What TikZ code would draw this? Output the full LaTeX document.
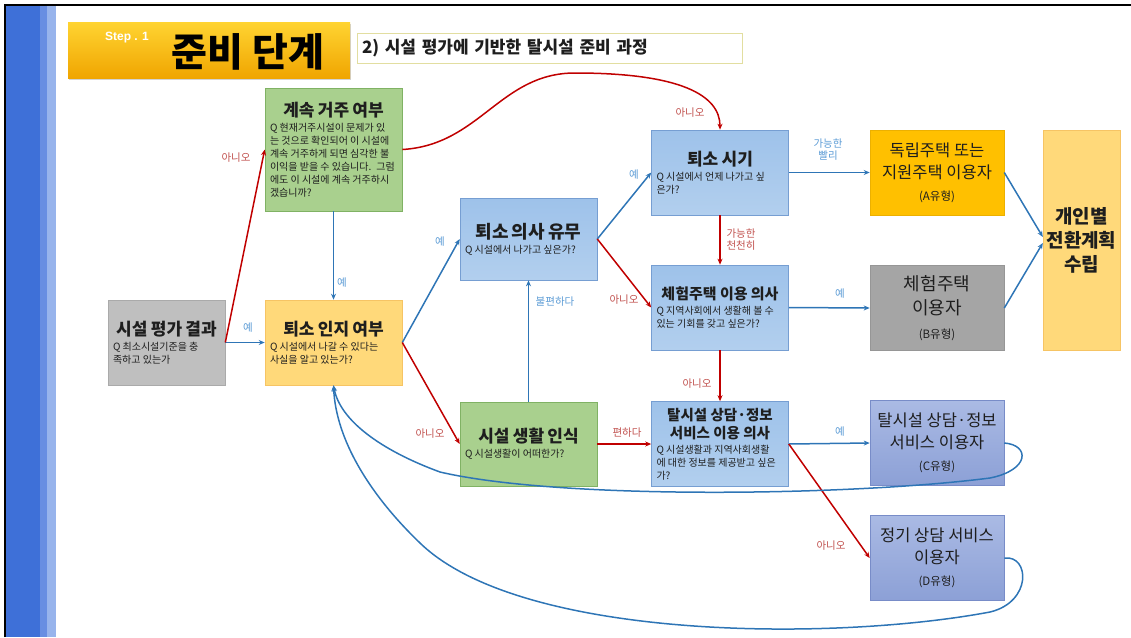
\documentclass[tikz,border=0pt]{standalone}
\usepackage{fontspec}
\setmainfont{Noto Sans CJK KR}
\newfontfamily\latinfont{Liberation Sans}
\usetikzlibrary{arrows.meta,shadows}

\definecolor{stripdk}{RGB}{62,112,216}
\definecolor{stripmd}{RGB}{104,142,226}
\definecolor{striplt}{RGB}{152,180,236}
\definecolor{ttltop}{RGB}{255,212,50}
\definecolor{ttlbot}{RGB}{240,165,0}
\definecolor{subbd}{RGB}{226,222,160}
\definecolor{txtdark}{RGB}{30,30,30}
\definecolor{evalfill}{RGB}{191,191,191}
\definecolor{evalbd}{RGB}{170,170,170}
\definecolor{grn}{RGB}{169,208,142}
\definecolor{grnbd}{RGB}{128,178,100}
\definecolor{yel}{RGB}{255,217,122}
\definecolor{yelbd}{RGB}{246,196,100}
\definecolor{blutop}{RGB}{158,194,234}
\definecolor{blubot}{RGB}{178,207,238}
\definecolor{blubd}{RGB}{118,158,210}
\definecolor{gold}{RGB}{255,192,0}
\definecolor{goldbd}{RGB}{236,176,0}
\definecolor{gry}{RGB}{165,165,165}
\definecolor{grybd}{RGB}{150,150,150}
\definecolor{peritop}{RGB}{170,186,228}
\definecolor{peribot}{RGB}{140,160,214}
\definecolor{peribd}{RGB}{120,140,200}
\definecolor{arblue}{RGB}{46,117,182}
\definecolor{arred}{RGB}{192,0,0}
\definecolor{lblblue}{RGB}{91,155,213}
\definecolor{lblred}{RGB}{192,80,77}

\newcommand{\qtitle}[2][17]{{\centering\fontsize{#1}{18}\selectfont\bfseries #2\par}\vskip2pt}
\newcommand{\qbody}[1]{{\raggedright\fontsize{10}{13}\selectfont\spaceskip=.22em plus .1em minus .05em #1\par}}
\newcommand{\utype}[1]{{\fontsize{11.5}{15}\selectfont (#1유형)}}

\tikzset{
    qbox/.style = {
        rectangle,
        draw,
        line width=0.6pt,
        text width=127pt,
        inner xsep=5pt,
        inner ysep=3pt,
        align=left,
        text=txtdark
    },
    evalbox/.style = {qbox, fill=evalfill, draw=evalbd, text width=107pt, minimum height=85pt},
    grnbox/.style = {qbox, fill=grn, draw=grnbd},
    yelbox/.style = {qbox, fill=yel, draw=yelbd, minimum height=85pt},
    blubox/.style = {qbox, draw=blubd, top color=blutop, bottom color=blubot, minimum height=85pt},
    resbox/.style = {
        rectangle,
        draw,
        line width=0.6pt,
        minimum width=134pt,
        minimum height=85pt,
        align=center,
        text=txtdark,
        font=\fontsize{16.5}{22}\selectfont
    },
    typea/.style = {resbox, fill=gold, draw=goldbd},
    typeb/.style = {resbox, fill=gry, draw=grybd, font=\fontsize{18}{24}\selectfont},
    typec/.style = {resbox, draw=peribd, top color=peritop, bottom color=peribot},
    lbl/.style = {font=\fontsize{10.5}{12}\selectfont, inner sep=1pt, align=center},
    yes/.style = {lbl, text=lblblue},
    no/.style = {lbl, text=lblred},
    bluearr/.style = {draw=arblue, line width=1.5pt, -{Stealth[length=6pt,width=5pt]}},
    redarr/.style = {draw=arred, line width=1.5pt, -{Stealth[length=6pt,width=5pt]}}
}

\begin{document}
\begin{tikzpicture}[x=1pt, y=-1pt]

  \useasboundingbox (0,0) rectangle (1131,637);

  %% side strip and frame
  \fill[stripdk] (6,6) rectangle (40,637);
  \fill[stripmd] (40,6) rectangle (47,637);
  \fill[striplt] (47,6) rectangle (56,637);
  \draw[line width=1.2pt] (5,637) -- (5,5) -- (1131,5);

  %% heading
  \node[rectangle, minimum width=282pt, minimum height=56pt, top color=ttltop, bottom color=ttlbot,
        drop shadow={shadow xshift=1pt, shadow yshift=-2pt, opacity=0.35}] (ttl) at (209,50) {};
  \node[text=white, font=\latinfont\bfseries\fontsize{12}{13}\selectfont] (stepno) at (127,38) {Step . 1};
  \node[text=black, font=\bfseries\fontsize{39}{44}\selectfont] (stage) at (248,52) {준비 단계};
  \node[rectangle, draw=subbd, line width=0.8pt, fill=white, minimum height=30pt, text width=375pt,
        inner xsep=5pt, align=left, text=txtdark, font=\bfseries\fontsize{17}{20}\selectfont]
        (sub) at (549.5,48) {2) 시설 평가에 기반한 탈시설 준비 과정};

  %% question boxes
  \node[evalbox] (eval) at (166.5,342.5) {\qtitle{시설 평가 결과}\qbody{Q 최소시설기준을 충\\족하고 있는가}};
  \node[grnbox, minimum height=123pt] (stay) at (333.5,149.5)
    {\qtitle{계속 거주 여부}\qbody{Q 현재거주시설이 문제가 있\\는 것으로 확인되어 이 시설에\\계속 거주하게 되면 심각한 불\\이익을 받을 수 있습니다. 그럼\\에도 이 시설에 계속 거주하시\\겠습니까?}};
  \node[yelbox] (aware) at (333.5,342.5) {\qtitle{퇴소 인지 여부}\qbody{Q 시설에서 나갈 수 있다는\\사실을 알고 있는가?}};
  \node[blubox, minimum height=82pt] (will) at (528.5,239) {\qtitle[18]{퇴소 의사 유무}\qbody{Q 시설에서 나가고 싶은가?}};
  \node[grnbox, minimum height=84pt] (life) at (528.5,444) {\qtitle{시설 생활 인식}\qbody{Q 시설생활이 어떠한가?}};
  \node[blubox] (when) at (720,172.5) {\qtitle{퇴소 시기}\qbody{Q 시설에서 언제 나가고 싶\\은가?}};
  \node[blubox] (trial) at (720,307.5) {\qtitle[15]{체험주택 이용 의사}\qbody{Q 지역사회에서 생활해 볼 수\\있는 기회를 갖고 싶은가?}};
  \node[blubox] (consult) at (720,444)
    {\qtitle[14.5]{탈시설 상담·정보\\서비스 이용 의사}\qbody{Q 시설생활과 지역사회생활\\에 대한 정보를 제공받고 싶은\\가?}};

  %% user types
  \node[typea] (usra) at (937,172.5) {독립주택 또는\\지원주택 이용자\\\utype{A}};
  \node[typeb] (usrb) at (937,308) {체험주택\\이용자\\\utype{B}};
  \node[typec] (usrc) at (937,443) {탈시설 상담·정보\\서비스 이용자\\\utype{C}};
  \node[typec] (usrd) at (937,558) {정기 상담 서비스\\이용자\\\utype{D}};
  \node[rectangle, draw=yelbd, fill=yel, minimum width=77pt, minimum height=220pt, align=center,
        text=txtdark, font=\bfseries\fontsize{19}{24}\selectfont] (plan) at (1081.5,240) {개인별\\전환계획\\수립};

  %% connectors
  \draw[bluearr] (eval.east) -- (aware.west);
  \draw[redarr] (eval.east) -- (stay.west);
  \draw[bluearr] (stay.south) -- (aware.north);
  \draw[redarr] (stay.east) .. controls (480,145) and (500,73) .. (575,73)
                .. controls (680,73) and (720,95) .. (when.north);
  \draw[bluearr] (aware.east) -- (will.west);
  \draw[redarr] (aware.east) -- (life.west);
  \draw[bluearr] (life.north) -- (will.south);
  \draw[redarr] (life.east) -- (consult.west);
  \draw[bluearr] (will.east) -- (when.west);
  \draw[redarr] (will.east) -- (trial.west);
  \draw[redarr] (when.south) -- (trial.north);
  \draw[redarr] (trial.south) -- (consult.north);
  \draw[bluearr] (when.east) -- (usra.west);
  \draw[bluearr] (trial.east) -- (usrb.west);
  \draw[bluearr] (consult.east) -- (usrc.west);
  \draw[redarr] (consult.east) -- (usrd.west);
  \draw[bluearr] (usra.east) -- ([yshift=3pt]plan.west);
  \draw[bluearr] (usrb.east) -- ([yshift=-3pt]plan.west);

  % loops back to the awareness box
  \draw[bluearr] (usrc.east) .. controls (1030,445) and (1030,470) .. (990,478)
                 .. controls (850,496) and (560,500) .. (440,472)
                 .. controls (380,450) and (340,420) .. (aware.south);
  \draw[bluearr] (usrd.east) .. controls (1030,555) and (1032,602) .. (990,612)
                 .. controls (830,642) and (520,640) .. (420,543)
                 .. controls (370,495) and (336,440) .. (aware.south);

  %% answer labels
  \node[no] (n1) at (236,158) {아니오};
  \node[yes] (y1) at (248,328) {예};
  \node[yes] (y2) at (342,283) {예};
  \node[no] (n2) at (690,113) {아니오};
  \node[yes] (y3) at (440,242) {예};
  \node[no] (n3) at (430,434) {아니오};
  \node[yes] (y4) at (555,302) {불편하다};
  \node[no] (n4) at (627,433) {편하다};
  \node[yes] (y5) at (634,175) {예};
  \node[no] (n5) at (624,300) {아니오};
  \node[no] (n6) at (741,240) {가능한\\천천히};
  \node[no] (n7) at (697,384) {아니오};
  \node[yes] (y6) at (828,150) {가능한\\빨리};
  \node[yes] (y7) at (840,294) {예};
  \node[yes] (y8) at (840,432) {예};
  \node[no] (n8) at (831,546) {아니오};

\end{tikzpicture}
\end{document}
